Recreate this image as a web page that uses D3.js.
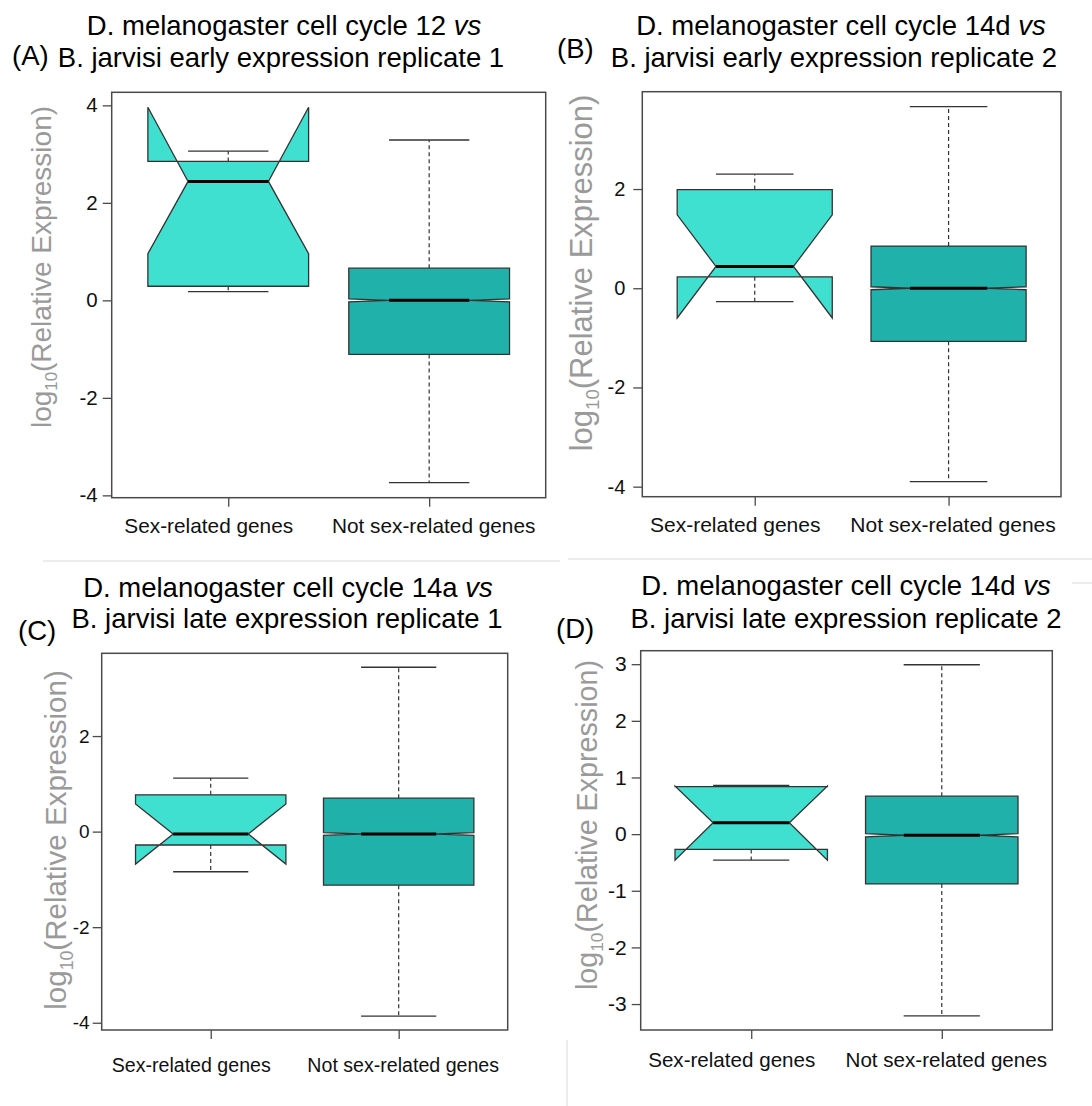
<!DOCTYPE html>
<html>
<head>
<meta charset="utf-8">
<script src="https://cdn.jsdelivr.net/npm/d3@7"></script>
<style>
  body { margin: 0; background: #fff; }
  svg text { font-family: Arial, "Liberation Sans", sans-serif; }
  .frame { fill: none; stroke: #4a4a4a; stroke-width: 1.5; }
  .axis path.domain { display: none; }
  .axis line { stroke: #4a4a4a; stroke-width: 1.3; }
  .axis text { fill: #111; }
  .box { stroke: #333; stroke-width: 1.3; }
  .whisker { stroke: #333; stroke-width: 1.2; stroke-dasharray: 4,3; }
  .staple { stroke: #333; stroke-width: 1.3; }
  .median { stroke: #000; stroke-width: 3; }
  .ylab { fill: #9a9a9a; }
</style>
</head>
<body>
<svg id="fig" width="1092" height="1106"></svg>
<script>
// ---- data ----
const GROUPS = ["Sex-related genes", "Not sex-related genes"];
const GROUP_COLORS = ["#40E0D0", "#20B2AA"];
const PANEL_IDS = ["(A)", "(B)", "(C)", "(D)"];
const TITLES_1 = ["D. melanogaster cell cycle 12", "D. melanogaster cell cycle 14d",
                  "D. melanogaster cell cycle 14a", "D. melanogaster cell cycle 14d"];
const TITLES_2 = ["B. jarvisi early expression replicate 1", "B. jarvisi early expression replicate 2",
                  "B. jarvisi late expression replicate 1", "B. jarvisi late expression replicate 2"];
const Y_TICKS = [[-4, -2, 0, 2, 4], [-4, -2, 0, 2], [-4, -2, 0, 2], [-3, -2, -1, 0, 1, 2, 3]];

// box stats per group: [lower whisker, Q1, median, Q3, upper whisker, notch low, notch high]
const STATS_A = [[0.18, 0.29, 2.44, 2.85, 3.06, 0.96, 3.96],
                 [-3.74, -1.11, 0.00, 0.66, 3.29, -0.03, 0.03]];
const STATS_B = [[-0.27, 0.23, 0.44, 1.99, 2.30, -0.60, 1.48],
                 [-3.90, -1.07, 0.00, 0.85, 3.66, -0.03, 0.03]];
const STATS_C = [[-0.84, -0.28, -0.05, 0.77, 1.12, -0.68, 0.58],
                 [-3.86, -1.12, -0.05, 0.70, 3.44, -0.08, -0.02]];
const STATS_D = [[-0.46, -0.27, 0.20, 0.84, 0.86, -0.46, 0.85],
                 [-3.21, -0.88, -0.02, 0.67, 2.99, -0.05, 0.01]];
const ALL_STATS = [STATS_A, STATS_B, STATS_C, STATS_D];

// ---- layout ----
const LAYOUT = [
  {x0: 111.7, x1: 545.7, y0: 92.3, y1: 497.7, t1x: 284, t2x: 281, t1y: 35, t2y: 67,
   idx: 12, idy: 65, ylx: 51, yly: 267, ylSize: 28, tickFont: 20.5, tickPad: 5, xlabOff: 35, xlabFont: 20.8},
  {x0: 642.3, x1: 1061, y0: 91.7, y1: 496.7, t1x: 841, t2x: 834, t1y: 35, t2y: 67,
   idx: 557, idy: 58, ylx: 592, yly: 273, ylSize: 31, tickFont: 20, tickPad: 8, xlabOff: 35, xlabFont: 21},
  {x0: 101.7, x1: 507.7, y0: 653.3, y1: 1030, t1x: 288, t2x: 287, t1y: 597, t2y: 628,
   idx: 18, idy: 640, ylx: 66, yly: 840, ylSize: 29.5, tickFont: 19, tickPad: 3, xlabOff: 42, xlabFont: 19.6},
  {x0: 640.7, x1: 1052.3, y0: 650.7, y1: 1030, t1x: 846, t2x: 846, t1y: 595, t2y: 628,
   idx: 556, idy: 638, ylx: 597, yly: 825, ylSize: 28.7, tickFont: 21, tickPad: 5, xlabOff: 37, xlabFont: 20.6},
];
const TITLE_FONT = 27.5;
const TICK_LEN = 9;
const BOX_HALF = 0.4;          // half box width in category units
const XLAB_SHIFT = [-20, 4];   // label nudges as in the figure

const svg = d3.select("#fig");

// faint panel borders from the composed figure
svg.append("g").attr("stroke", "#e6e6e6").attr("stroke-width", 1.5)
   .selectAll("line")
   .data([[568, 559, 1092, 559], [43, 561, 560, 561], [567, 1040, 567, 1106], [1072, 583, 1092, 583]])
   .enter().append("line")
   .attr("x1", d => d[0]).attr("y1", d => d[1]).attr("x2", d => d[2]).attr("y2", d => d[3]);

var drawPanel = function(stats, L, i){
    var g = svg.append("g");

    // R-style 4% expansion of the plotted range
    var lo = d3.min(stats, s => Math.min(s[0], s[5]));
    var hi = d3.max(stats, s => Math.max(s[4], s[6]));
    var pad = (hi - lo) * 0.04;
    var y = d3.scaleLinear().domain([lo - pad, hi + pad]).range([L.y1, L.y0]);
    var x = d3.scaleLinear().domain([0.42, 2.58]).range([L.x0, L.x1]);

    // titles
    var t1 = g.append("text").attr("x", L.t1x).attr("y", L.t1y)
              .attr("text-anchor", "middle").attr("font-size", TITLE_FONT);
    t1.append("tspan").text(TITLES_1[i] + " ");
    t1.append("tspan").attr("font-style", "italic").text("vs");
    g.append("text").attr("x", L.t2x).attr("y", L.t2y)
     .attr("text-anchor", "middle").attr("font-size", TITLE_FONT).text(TITLES_2[i]);
    g.append("text").attr("x", L.idx).attr("y", L.idy)
     .attr("font-size", TITLE_FONT).text(PANEL_IDS[i]);

    // y axis (plain hyphen minus, as in the figure)
    var ya = g.append("g").classed("axis", true)
              .attr("transform", "translate(" + L.x0 + ",0)")
              .call(d3.axisLeft(y).tickValues(Y_TICKS[i]).tickSize(TICK_LEN).tickPadding(L.tickPad)
                      .tickFormat((d) => String(d)));
    ya.selectAll("text").attr("font-size", L.tickFont).attr("font-family", null);

    // x axis
    var xa = g.append("g").classed("axis", true)
              .attr("transform", "translate(0," + L.y1 + ")")
              .call(d3.axisBottom(x).tickValues([1, 2]).tickSize(TICK_LEN)
                      .tickFormat((d) => GROUPS[d - 1]));
    xa.selectAll("text").attr("font-size", L.xlabFont).attr("font-family", null)
      .attr("y", L.xlabOff).attr("dy", 0)
      .attr("dx", (d) => XLAB_SHIFT[d - 1]);

    // y label
    var yl = g.append("text").classed("ylab", true)
              .attr("transform", "translate(" + L.ylx + "," + L.yly + ") rotate(-90)")
              .attr("text-anchor", "middle").attr("font-size", L.ylSize);
    yl.append("tspan").text("log");
    yl.append("tspan").attr("font-size", L.ylSize * 0.6).attr("dy", L.ylSize * 0.22).text("10");
    yl.append("tspan").attr("dy", -L.ylSize * 0.22).text("(Relative Expression)");

    // boxes
    var hw = x(1 + BOX_HALF) - x(1);
    var boxes = g.selectAll("g.bx").data(stats).enter().append("g").classed("bx", true);

    boxes.append("line").classed("whisker", true)
         .attr("x1", (d, j) => x(j + 1)).attr("x2", (d, j) => x(j + 1))
         .attr("y1", d => y(d[3])).attr("y2", d => y(d[4]));
    boxes.append("line").classed("whisker", true)
         .attr("x1", (d, j) => x(j + 1)).attr("x2", (d, j) => x(j + 1))
         .attr("y1", d => y(d[1])).attr("y2", d => y(d[0]));
    [0, 4].forEach(function(k){
        boxes.append("line").classed("staple", true)
             .attr("x1", (d, j) => x(j + 1) - hw / 2).attr("x2", (d, j) => x(j + 1) + hw / 2)
             .attr("y1", d => y(d[k])).attr("y2", d => y(d[k]));
    });

    boxes.append("path").classed("box", true)
         .attr("fill", (d, j) => GROUP_COLORS[j])
         .attr("d", function(d, j){
             var c = x(j + 1);
             var pts = [[c - hw, y(d[1])], [c - hw, y(d[5])], [c - hw / 2, y(d[2])], [c - hw, y(d[6])],
                        [c - hw, y(d[3])], [c + hw, y(d[3])], [c + hw, y(d[6])], [c + hw / 2, y(d[2])],
                        [c + hw, y(d[5])], [c + hw, y(d[1])]];
             return d3.line()(pts) + "Z";
         });
    boxes.append("line").classed("median", true)
         .attr("x1", (d, j) => x(j + 1) - hw / 2).attr("x2", (d, j) => x(j + 1) + hw / 2)
         .attr("y1", d => y(d[2])).attr("y2", d => y(d[2]));

    g.append("rect").classed("frame", true)
     .attr("x", L.x0).attr("y", L.y0)
     .attr("width", L.x1 - L.x0).attr("height", L.y1 - L.y0);
};

ALL_STATS.forEach((s, i) => drawPanel(s, LAYOUT[i], i));
</script>
</body>
</html>
